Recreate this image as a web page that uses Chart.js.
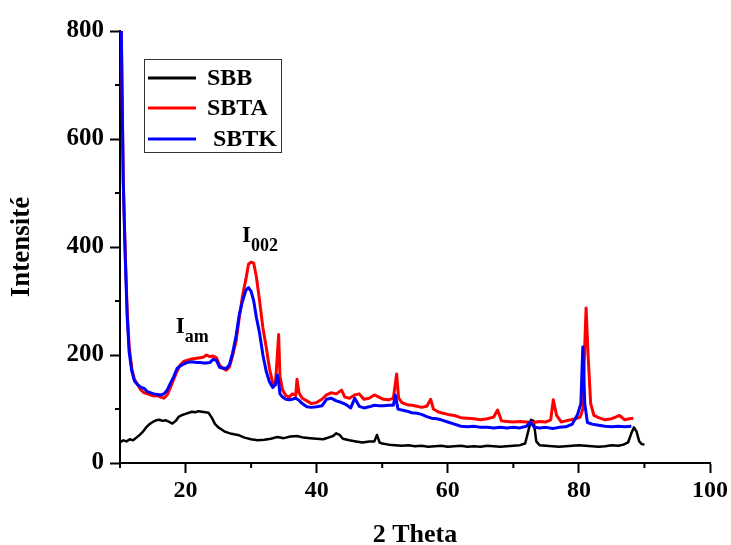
<!DOCTYPE html>
<html>
<head>
<meta charset="utf-8">
<script src="https://cdn.jsdelivr.net/npm/chart.js@4"></script>
<style>
  html, body { margin: 0; padding: 0; background: #fff; }
  #wrap { width: 731px; height: 545px; }
</style>
</head>
<body>
<div id="wrap"><canvas id="xrd"></canvas></div>
<script>
// 2 Theta positions and intensities
const sbbX = [10, 10.5, 11, 11.5, 12, 12.5, 13, 13.5, 14, 14.5,
    15, 15.5, 16, 16.5, 17, 17.5, 18, 18.5, 19, 19.5,
    20, 20.5, 21, 21.5, 22, 22.5, 23, 23.5, 24, 24.5,
    25, 25.5, 26, 27, 28, 29, 30, 31, 32, 33,
    34, 35, 36, 37, 38, 39, 40, 41, 42, 42.5,
    43, 43.5, 44, 45, 46, 47, 48, 48.8, 49.2, 49.6,
    50, 51, 52, 53, 54, 55, 56, 57, 58, 59,
    60, 61, 62, 63, 64, 65, 66, 67, 68, 69,
    70, 71, 71.8, 72.3, 72.7, 73.1, 73.5, 74, 75, 76,
    77, 78, 79, 80, 81, 82, 83, 84, 85, 86,
    86.8, 87.5, 88, 88.4, 88.8, 89.2, 89.6, 90];
const sbbY = [38, 42, 40, 44, 42, 47, 52, 58, 66, 72,
    76, 79, 80, 78, 79, 76, 73, 78, 86, 89,
    91, 93, 95, 94, 96, 95, 94, 93, 84, 72,
    66, 62, 58, 54, 52, 47, 44, 42, 43, 45,
    48, 46, 49, 50, 47, 46, 45, 44, 48, 50,
    55, 52, 45, 42, 40, 38, 40, 40, 52, 38,
    36, 34, 33, 32, 33, 31, 32, 30, 31, 32,
    30, 31, 32, 30, 31, 30, 32, 31, 30, 31,
    32, 33, 36, 60, 80, 78, 40, 33, 32, 31,
    30, 31, 32, 33, 32, 31, 30, 31, 33, 32,
    34, 38, 55, 66, 58, 40, 35, 34];

const sbtaX = [10.1, 10.3, 10.5, 10.8, 11.1, 11.4, 11.8, 12.2, 12.7, 13.2,
    13.7, 14.2, 14.7, 15.2, 15.7, 16.2, 16.7, 17.2, 17.7, 18.2,
    18.7, 19.2, 19.7, 20.2, 20.7, 21.2, 21.7, 22.2, 22.7, 23.2,
    23.7, 24.2, 24.7, 25.2, 25.7, 26.2, 26.7, 27.2, 27.7, 28.2,
    28.7, 29.2, 29.6, 30.0, 30.4, 30.8, 31.3, 31.8, 32.3, 32.8,
    33.3, 33.7, 34.0, 34.2, 34.4, 34.8, 35.3, 35.8, 36.3, 36.8,
    37.0, 37.3, 37.8, 38.5, 39.2, 40, 40.8, 41.5, 42.2, 43,
    43.8, 44.3, 45, 45.8, 46.5, 47.2, 48, 48.8, 49.5, 50.2,
    51, 51.7, 52.2, 52.5, 53, 53.8, 54.5, 55.3, 56, 56.8,
    57.4, 57.8, 58.5, 59.3, 60, 61, 62, 63, 64, 65,
    66, 67, 67.6, 68.2, 69, 70, 71, 72, 73, 74,
    75, 75.7, 76.1, 76.6, 77.3, 78, 78.8, 79.5, 80.2, 80.6,
    80.9, 81.1, 81.4, 81.8, 82.3, 83, 84, 85, 85.6, 86.2,
    87, 87.7, 88.3];
const sbtaY = [900, 700, 520, 390, 280, 215, 175, 155, 145, 135,
    130, 128, 126, 124, 125, 122, 120, 126, 140, 155,
    170, 182, 188, 190, 192, 193, 194, 195, 196, 200,
    197, 198, 195, 181, 175, 172, 178, 200, 225, 270,
    310, 340, 368, 372, 370, 345, 300, 250, 215, 175,
    148, 145, 200, 238, 160, 135, 125, 122, 128, 125,
    155, 130, 120, 115, 110, 112, 118, 126, 130, 128,
    135, 122, 120, 126, 128, 118, 120, 126, 122, 118,
    117, 120, 165, 120, 112, 108, 107, 105, 103, 105,
    118, 100, 95, 92, 90, 88, 84, 83, 82, 80,
    82, 85, 98, 78, 77, 76, 77, 76, 75, 77,
    76, 80, 117, 88, 76, 78, 80, 82, 85, 100,
    220, 287, 200, 110, 88, 84, 80, 82, 85, 88,
    80, 82, 83];

const sbtkX = [10.1, 10.3, 10.5, 10.8, 11.1, 11.4, 11.8, 12.2, 12.7, 13.2,
    13.7, 14.2, 14.7, 15.2, 15.7, 16.2, 16.7, 17.2, 17.7, 18.2,
    18.7, 19.2, 19.7, 20.2, 20.7, 21.2, 21.7, 22.2, 22.7, 23.2,
    23.7, 24.2, 24.7, 25.2, 25.7, 26.2, 26.7, 27.2, 27.7, 28.2,
    28.7, 29.2, 29.6, 30.0, 30.4, 30.8, 31.3, 31.8, 32.3, 32.8,
    33.3, 33.7, 34.0, 34.2, 34.4, 34.8, 35.3, 35.8, 36.3, 36.8,
    37.3, 37.8, 38.5, 39.2, 40, 40.8, 41.5, 42.2, 43, 43.8,
    44.5, 45.2, 45.8, 46.5, 47.2, 48, 48.8, 49.5, 50.2, 51,
    51.7, 52.0, 52.4, 53, 53.8, 54.5, 55.3, 56, 56.8, 57.5,
    58.3, 59, 60, 61, 62, 63, 64, 65, 66, 67,
    68, 69, 70, 71, 72, 72.6, 73.2, 74, 75, 76,
    77, 78, 79, 79.8, 80.3, 80.6, 80.9, 81.3, 82, 83,
    84, 85, 86, 87, 88];
const sbtkY = [900, 700, 520, 380, 270, 205, 170, 152, 145, 140,
    138, 132, 130, 128, 127, 126, 128, 135, 148, 160,
    175, 180, 183, 186, 187, 187, 186, 186, 185, 185,
    186, 192, 190, 177, 176, 175, 182, 205, 235, 275,
    300, 320, 325, 318, 300, 270, 240, 200, 170, 150,
    140, 145, 163, 150, 128, 122, 118, 117, 118, 120,
    116, 110, 104, 103, 104, 106, 118, 120, 115, 112,
    108, 102, 120, 105, 102, 104, 107, 106, 106, 107,
    107, 126, 100, 98, 96, 93, 92, 90, 86, 83,
    82, 80, 76, 72, 68, 67, 68, 66, 66, 65,
    66, 65, 66, 65, 68, 76, 66, 65, 66, 64,
    66, 67, 72, 90, 110, 215, 110, 75, 72, 70,
    68, 67, 68, 67, 68];

const xTicks = [20, 40, 60, 80, 100];
const yTicks = [0, 200, 400, 600, 800];

const serif = '"Liberation Serif", "Times New Roman", serif';

function toPoints(xs, ys) {
    return xs.map((x, i) => ({ x: x, y: ys[i] }));
}

// minor ticks halfway between the labelled ones, plus legend and peak labels
const decorations = {
    id: 'decorations',
    afterDraw(chart) {
        const { ctx, scales: { x, y } } = chart;
        ctx.save();
        ctx.strokeStyle = '#000';
        ctx.lineWidth = 2;
        ctx.beginPath();
        for (let v = 10; v < 100; v += 20) {
            const px = x.getPixelForValue(v);
            ctx.moveTo(px, x.top);
            ctx.lineTo(px, x.top + 5);
        }
        for (let v = 100; v < 800; v += 200) {
            const py = y.getPixelForValue(v);
            ctx.moveTo(y.right, py);
            ctx.lineTo(y.right - 5, py);
        }
        ctx.stroke();

        // legend box
        ctx.lineWidth = 1;
        ctx.strokeStyle = '#333';
        ctx.strokeRect(144.5, 59.5, 137, 93);
        ctx.font = 'bold 24px ' + serif;
        ctx.textBaseline = 'middle';
        ctx.fillStyle = '#000';
        const rows = [78, 108, 139];
        chart.data.datasets.forEach((ds, i) => {
            ctx.strokeStyle = ds.borderColor;
            ctx.lineWidth = 3;
            ctx.beginPath();
            ctx.moveTo(148, rows[i]);
            ctx.lineTo(196, rows[i]);
            ctx.stroke();
            ctx.fillText(ds.label, 207, rows[i] + 1);
        });

        // peak labels
        ctx.textBaseline = 'alphabetic';
        const label = (xv, yv, sub) => {
            const px = x.getPixelForValue(xv);
            const py = y.getPixelForValue(yv);
            ctx.font = 'bold 23px ' + serif;
            ctx.fillText('I', px, py);
            const w = ctx.measureText('I').width;
            ctx.font = 'bold 18px ' + serif;
            ctx.fillText(sub, px + w, py + 9);
        };
        label(18.5, 241, 'am');
        label(28.6, 409, '002');
        ctx.restore();
    }
};

const config = {
    type: 'line',
    data: {
        datasets: [
            { label: 'SBB', data: toPoints(sbbX, sbbY), borderColor: '#000000', borderWidth: 2.5, order: 2 },
            { label: 'SBTA', data: toPoints(sbtaX, sbtaY), borderColor: '#ff0000', order: 1 },
            { label: ' SBTK', data: toPoints(sbtkX, sbtkY), borderColor: '#0000ff', order: 0 },
        ]
    },
    options: {
        responsive: true,
        maintainAspectRatio: false,
        animation: false,
        elements: {
            line: { borderWidth: 3, tension: 0, borderJoinStyle: 'round' },
            point: { radius: 0 }
        },
        layout: { padding: { top: 31, right: 21, left: 0, bottom: 0 } },
        plugins: {
            legend: { display: false },
            tooltip: { enabled: false }
        },
        scales: {
            x: {
                type: 'linear',
                min: 10,
                max: 100,
                afterFit: s => { s.height = 82; },
                afterBuildTicks: s => { s.ticks = xTicks.map(v => ({ value: v })); },
                border: { display: true, color: '#000', width: 2 },
                grid: { drawOnChartArea: false, drawTicks: true, tickLength: 10, tickWidth: 2, tickColor: '#000' },
                ticks: { color: '#000', padding: 3, maxRotation: 0, font: { family: serif, size: 24, weight: 'bold' } },
                title: { display: true, text: '2 Theta', color: '#000', padding: { top: 10, bottom: -6 },
                    font: { family: serif, size: 26, weight: 'bold' } }
            },
            y: {
                min: 0,
                max: 800,
                afterFit: s => { s.width = 120; },
                afterBuildTicks: s => { s.ticks = yTicks.map(v => ({ value: v })); },
                border: { display: true, color: '#000', width: 2 },
                grid: { drawOnChartArea: false, drawTicks: true, tickLength: 10, tickWidth: 2, tickColor: '#000' },
                ticks: { color: '#000', padding: 6, font: { family: serif, size: 25, weight: 'bold' } },
                title: { display: true, text: 'Intensité', color: '#000', padding: { top: 6, bottom: 0 },
                    font: { family: serif, size: 27, weight: 'bold' } }
            }
        }
    },
    plugins: [decorations]
};

new Chart(document.getElementById('xrd').getContext('2d'), config);
</script>
</body>
</html>
